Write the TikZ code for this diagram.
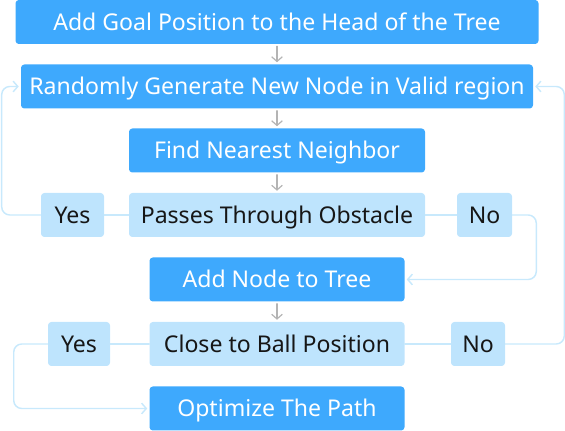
\documentclass[tikz,border=0pt]{standalone}
\usepackage{fontspec}
\setmainfont{Noto Sans}
\usetikzlibrary{arrows.meta}
\definecolor{boxblue}{HTML}{3EA9FD}
\definecolor{boxlight}{HTML}{BEE4FD}
\definecolor{linklight}{HTML}{C8E9FC}
\definecolor{arrowgrey}{HTML}{B4B4B4}
\definecolor{textdark}{HTML}{161616}
\begin{document}
\begin{tikzpicture}[x=0.75pt,y=-0.75pt,line cap=round,line join=round,
  stepbox/.style={fill=boxblue,text=white,rounded corners=2.5pt,minimum height=33pt,inner sep=0pt,
    text height=12.4pt,text depth=0pt,font=\fontsize{17.3}{20}\selectfont},
  askbox/.style={stepbox,fill=boxlight,text=textdark},
  flow/.style={draw=arrowgrey,line width=0.9pt,shorten <=1.5pt,shorten >=1.5pt,
    -{Straight Barb[length=3.5pt,width=8pt]}},
  link/.style={draw=linklight,line width=1.1pt,rounded corners=6pt},
  back/.style={link,shorten >=1.5pt,-{Straight Barb[length=3.5pt,width=8pt]}}]
  \useasboundingbox (0,0) rectangle (565,431);
  \node[stepbox,minimum width=392.25pt] (goal) at (277,22) {Add Goal Position to the Head of the Tree};
  \node[stepbox,minimum width=384pt] (rand) at (277,86.5) {Randomly Generate New Node in Valid region};
  \node[stepbox,minimum width=222pt] (near) at (277,150.5) {Find Nearest Neighbor};
  \node[askbox,minimum width=222pt] (pass) at (277,215) {Passes Through Obstacle};
  \node[askbox,minimum width=47.25pt] (yesa) at (72.5,215) {Yes};
  \node[askbox,minimum width=41.25pt] (noa) at (484.5,215) {No};
  \node[stepbox,minimum width=191.25pt] (add) at (277,279.5) {Add Node to Tree};
  \node[askbox,minimum width=191.25pt] (close) at (277,344) {Close to Ball Position};
  \node[askbox,minimum width=46.5pt] (yesb) at (79,344) {Yes};
  \node[askbox,minimum width=40.5pt] (nob) at (478,344) {No};
  \node[stepbox,minimum width=191.25pt] (opt) at (277,408.5) {Optimize The Path};
  \draw[flow] (goal) -- (rand);
  \draw[flow] (rand) -- (near);
  \draw[flow] (near) -- (pass);
  \draw[flow] (add) -- (close);
  \draw[link] (pass) -- (yesa);
  \draw[link] (pass) -- (noa);
  \draw[link] (close) -- (yesb);
  \draw[link] (close) -- (nob);
  \draw[back] (yesa.west) -- ++(-39,0) |- (rand.west);
  \draw[back] (noa.east) -- ++(24,0) |- (add.east);
  \draw[back] (yesb.west) -- ++(-34,0) |- (opt.west);
  \draw[back] (nob.east) -- ++(59,0) |- (rand.east);
\end{tikzpicture}
\end{document}
